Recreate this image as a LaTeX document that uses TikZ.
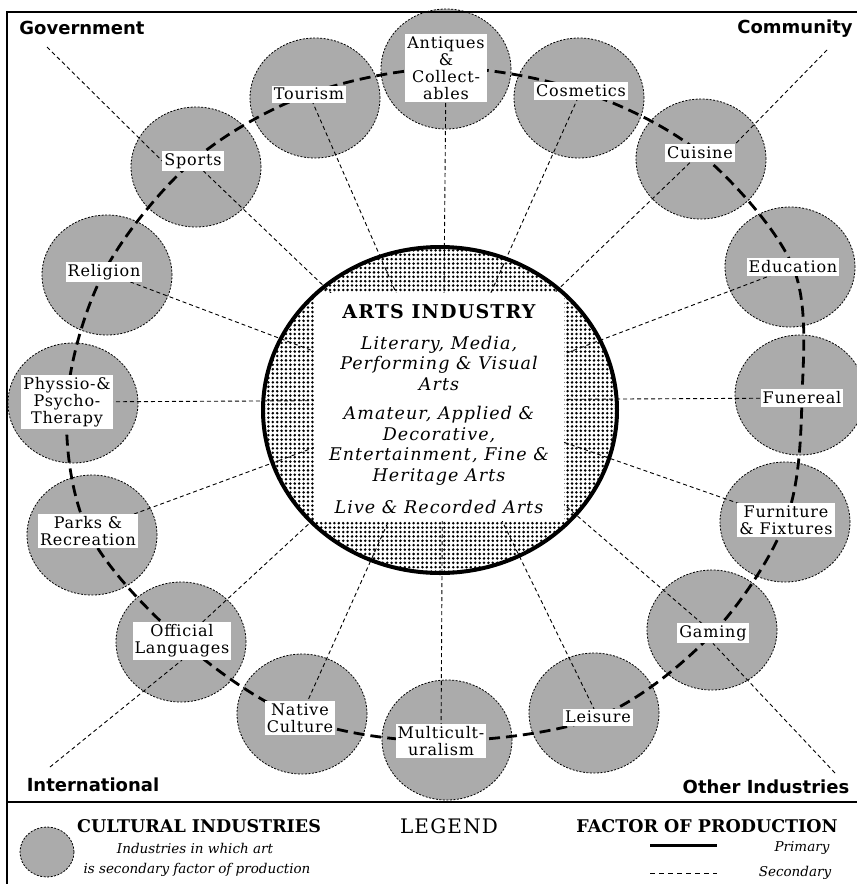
\documentclass[tikz,border=0pt]{standalone}
\usepackage{fontspec}
\setmainfont{DejaVu Serif}
\newfontfamily\labfont[LetterSpace=5]{DejaVu Serif}
\newfontfamily\ttlfont[LetterSpace=6]{DejaVu Serif}
\newfontfamily\cornfont{DejaVu Sans}
\usetikzlibrary{shapes.geometric,patterns.meta}
\pgfdeclarelayer{back}
\pgfdeclarelayer{mid}
\pgfsetlayers{back,mid,main}
\tikzset{
 indcirc/.style={ellipse, minimum width=130pt, minimum height=120pt, inner sep=0pt, draw, line width=0.8pt, dash pattern=on 2pt off 1.5pt, fill=black!33},
 indlab/.style={fill=white, inner xsep=2pt, inner ysep=2.5pt, align=center, font=\labfont\fontsize{16}{17}\selectfont},
 spoke/.style={line width=0.9pt, dash pattern=on 4pt off 3pt},
 ring/.style={line width=2.8pt, dash pattern=on 11pt off 6pt},
 corner/.style={font=\cornfont\bfseries\fontsize{18}{20}\selectfont, inner sep=0pt},
 ctext/.style={align=center, inner sep=0pt, font=\ttlfont\itshape\fontsize{17.5}{20.5}\selectfont},
 legit/.style={inner sep=0pt, font=\itshape\fontsize{13.5}{15}\selectfont},
 leghead/.style={inner sep=0pt, font=\bfseries\fontsize{17.5}{19}\selectfont},
}
\newcommand\industry[4]{%
 \begin{pgfonlayer}{back}\node[indcirc] (#1c) at (#2) {};\end{pgfonlayer}
 \node[indlab] (#1) at (#3) {#4};}
\begin{document}
\begin{tikzpicture}[x=1pt,y=-1pt]
\useasboundingbox (0,0) rectangle (857,884);
% frame
\coordinate (fr1) at (857,12); \coordinate (fr2) at (7,12); \coordinate (fr3) at (7,884);
\coordinate (sep1) at (7,802); \coordinate (sep2) at (857,802);
\draw[line width=1.5pt] (fr1) -- (fr2) -- (fr3);
\draw[line width=2.5pt] (sep1) -- (sep2);
% central
\coordinate (hub) at (443,400);
\begin{pgfonlayer}{back}
\node[ellipse, minimum width=354pt, minimum height=326pt, inner sep=0pt, pattern={Dots[distance=4.4pt,radius=1.4pt]}] (artsbg) at (440,410) {};
\end{pgfonlayer}
\node[fill=white, minimum width=250pt, minimum height=228pt, inner sep=0pt] (artsbox) at (439,407) {};
\node[ellipse, minimum width=354pt, minimum height=326pt, inner sep=0pt, draw, line width=4pt] (arts) at (440,410) {};
\node[inner sep=0pt, font=\ttlfont\bfseries\fontsize{19}{21}\selectfont] (artst) at (439,312) {ARTS INDUSTRY};
\node[ctext] (artsg1) at (439,363) {Literary, Media,\\Performing \& Visual\\Arts};
\node[ctext] (artsg2) at (439,446) {Amateur, Applied \&\\Decorative,\\Entertainment, Fine \&\\Heritage Arts};
\node[ctext] (artsg3) at (439,507) {Live \& Recorded Arts};
% industries
\industry{antiq}{446,69}{446,68}{Antiques\\\&\\Collect-\\ables}
\industry{cosm}{579,98}{581,91}{Cosmetics}
\industry{cuis}{701,159}{700,153}{Cuisine}
\industry{educ}{790,267}{793,267}{Education}
\industry{fune}{800,395}{802,398}{Funereal}
\industry{furn}{785,522}{786,520}{Furniture\\\& Fixtures}
\industry{gami}{712,630}{713,633}{Gaming}
\industry{leis}{594,713}{598,717}{Leisure}
\industry{mult}{447,740}{441,741}{Multicult-\\uralism}
\industry{nati}{302,714}{300,718}{Native\\Culture}
\industry{offi}{181,642}{182,641}{Official\\Languages}
\industry{park}{92,535}{88,531}{Parks \&\\Recreation}
\industry{phys}{73,403}{67,402}{Physsio-\&\\Psycho-\\Therapy}
\industry{reli}{107,275}{104,272}{Religion}
\industry{spor}{196,167}{193,161}{Sports}
\industry{tour}{315,98}{309,94}{Tourism}
% corners
\node[corner] (govt) at (82,28) {Government};
\node[corner] (comt) at (795,29) {Community};
\node[corner] (intt) at (93,785) {International};
\node[corner] (othert) at (766,787) {Other Industries};
\coordinate (gov) at (47,47);
\coordinate (comm) at (827,50);
\coordinate (intl) at (50,767);
\coordinate (other) at (835,773);
\begin{pgfonlayer}{mid}
\foreach \n in {antiq,cosm,cuis,educ,fune,furn,gami,leis,mult,nati,offi,park,phys,reli,spor,tour}
  \draw[spoke] (\n.center) -- (hub);
\draw[spoke] (gov) -- (spor.west);
\draw[spoke] (comm) -- (cuis.north east);
\draw[spoke] (intl) -- (offi.south);
\draw[spoke] (other) -- (gami.south);
\draw[ring] plot[smooth cycle, tension=0.55] coordinates {(antiq.center) (cosm.center) (cuis.center) (educ.center) (fune.center) (furn.center) (gami.center) (leis.center) (mult.center) (nati.center) (offi.center) (park.center) (phys.center) (reli.center) (spor.center) (tour.center)};
\end{pgfonlayer}
% legend
\begin{pgfonlayer}{back}
\node[indcirc, minimum width=54pt, minimum height=50pt] (legc) at (47,852) {};
\end{pgfonlayer}
\node[leghead] (lcult) at (199,826) {CULTURAL INDUSTRIES};
\node[legit] (lind1) at (195,848) {Industries in which art};
\node[legit] (lind2) at (197,870) {is secondary factor of production};
\node[inner sep=0pt, font=\ttlfont\fontsize{20}{22}\selectfont] (lleg) at (449,826) {LEGEND};
\node[leghead] (lfac) at (707,826) {FACTOR OF PRODUCTION};
\coordinate (pa) at (650,845); \coordinate (pb) at (717,845);
\coordinate (sa) at (650,873); \coordinate (sb) at (717,873);
\draw[line width=3pt] (pa) -- (pb);
\draw[line width=1pt, dash pattern=on 5pt off 4pt] (sa) -- (sb);
\node[legit] (lpri) at (802,848) {Primary};
\node[legit] (lsec) at (795,873) {Secondary};
\end{tikzpicture}
\end{document}
